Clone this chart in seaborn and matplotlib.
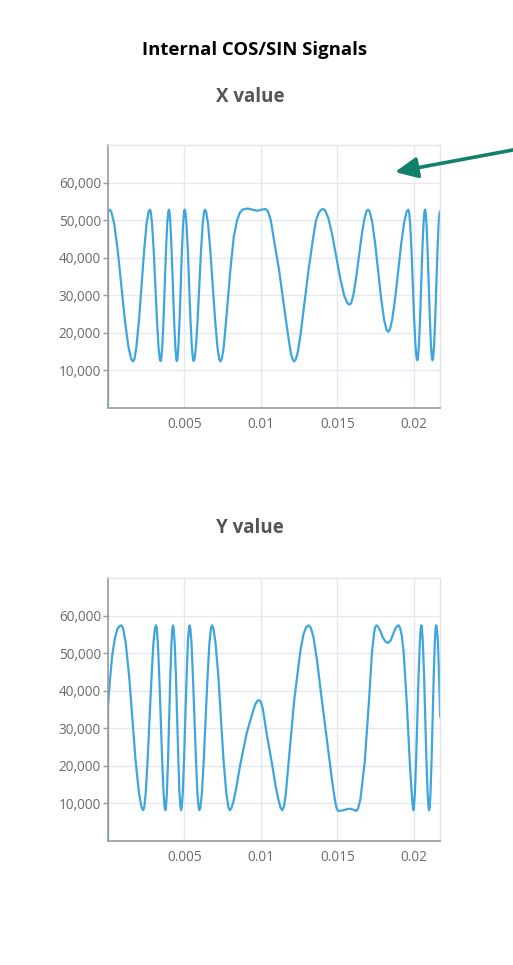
import numpy as np
import pandas as pd
import matplotlib
matplotlib.use("Agg")
import matplotlib.pyplot as plt
from matplotlib.ticker import FuncFormatter
import seaborn as sns

# --- Data (time in ms, value in thousands) ---
x_time_ms = [
    0.0, 0.0, 0.05, 0.10,
    0.22, 0.41, 0.64, 1.10, 1.33, 1.52, 1.64,
    1.73, 1.86, 2.03, 2.36, 2.52, 2.65, 2.74,
    2.80, 2.88, 2.99, 3.20, 3.30, 3.38, 3.44,
    3.48, 3.55, 3.63, 3.79, 3.87, 3.94, 3.98,
    4.02, 4.08, 4.16, 4.32, 4.40, 4.46, 4.50,
    4.54, 4.60, 4.68, 4.83, 4.91, 4.97, 5.01,
    5.06, 5.13, 5.22, 5.39, 5.48, 5.55, 5.60,
    5.66, 5.75, 5.86, 6.08, 6.19, 6.28, 6.34,
    6.42, 6.54, 6.69, 7.00, 7.15, 7.27, 7.35,
    7.45, 7.55, 7.63, 7.82, 8.00, 8.22, 8.44, 8.62, 8.80, 9.10, 9.45, 9.76,
    10.05, 10.28, 10.45, 10.64, 10.90, 11.18, 11.48, 11.78, 11.95, 12.07, 12.17,
    12.27, 12.40, 12.57, 12.84, 13.11, 13.42, 13.60, 13.78, 13.92, 14.05,
    14.19, 14.40, 14.66, 15.18, 15.44, 15.65, 15.79,
    15.89, 16.03, 16.21, 16.58, 16.76, 16.90, 17.00,
    17.10, 17.26, 17.46, 17.85, 18.05, 18.21, 18.31,
    18.42, 18.57, 18.77, 19.17, 19.37, 19.52, 19.63,
    19.68, 19.75, 19.84, 20.01, 20.10, 20.17, 20.22,
    20.26, 20.32, 20.395, 20.545, 20.62, 20.68, 20.72,
    20.76, 20.82, 20.89, 21.04, 21.11, 21.17, 21.21,
    21.25, 21.31, 21.385, 21.535, 21.61, 21.67, 21.71,
]
x_value_k = [
    0.0, 52.4, 52.7, 52.8,
    52.2, 49.0, 41.8, 23.5, 16.4, 13.0, 12.4,
    13.0, 16.4, 23.5, 41.8, 49.0, 52.2, 52.8,
    52.2, 49.0, 41.8, 23.5, 16.4, 13.1, 12.5,
    13.1, 16.4, 23.5, 41.8, 49.0, 52.2, 52.8,
    52.2, 49.0, 41.8, 23.5, 16.4, 13.1, 12.5,
    13.1, 16.4, 23.5, 41.8, 49.0, 52.2, 52.8,
    52.2, 49.0, 41.8, 23.5, 16.4, 13.1, 12.5,
    13.1, 16.4, 23.5, 41.8, 49.0, 52.2, 52.8,
    52.2, 49.0, 41.8, 23.5, 16.4, 13.0, 12.4,
    13.3, 15.8, 19.1, 28.0, 36.8, 45.6, 50.0, 52.0, 52.8, 53.1, 52.8, 52.5,
    52.8, 53.0, 52.4, 50.0, 43.5, 36.8, 27.8, 19.1, 14.6, 12.9, 12.4,
    12.9, 14.8, 19.1, 28.0, 36.8, 45.6, 50.0, 52.0, 52.7, 53.0,
    52.6, 50.6, 46.0, 34.5, 29.9, 27.9, 27.5,
    27.9, 29.9, 34.4, 45.9, 50.4, 52.4, 52.8,
    52.3, 49.7, 43.9, 29.2, 23.4, 20.8, 20.3,
    20.8, 23.4, 29.2, 43.9, 49.7, 52.3, 52.8,
    52.2, 49.0, 41.8, 23.6, 16.5, 13.3, 12.7,
    13.3, 16.5, 23.6, 41.8, 49.0, 52.2, 52.8,
    52.2, 49.0, 41.8, 23.6, 16.5, 13.3, 12.7,
    13.3, 16.5, 23.6, 41.8, 49.0, 51.9, 52.4,
]

y_time_ms = [
    0.0, 0.0, 0.12, 0.28, 0.45, 0.62, 0.76, 0.88,
    0.99, 1.16, 1.38, 1.80, 2.02, 2.19, 2.30,
    2.37, 2.47, 2.59, 2.85, 2.97, 3.07, 3.14,
    3.19, 3.26, 3.35, 3.54, 3.63, 3.70, 3.75,
    3.79, 3.85, 3.925, 4.075, 4.15, 4.21, 4.25,
    4.29, 4.36, 4.44, 4.60, 4.67, 4.74, 4.78,
    4.82, 4.89, 4.97, 5.14, 5.22, 5.29, 5.33,
    5.38, 5.46, 5.55, 5.75, 5.84, 5.92, 5.97,
    6.04, 6.14, 6.26, 6.51, 6.63, 6.73, 6.80,
    6.89, 7.03, 7.21, 7.55, 7.73, 7.87, 7.96,
    8.06, 8.20, 8.40, 8.62, 9.06, 9.43, 9.62, 9.76, 9.87,
    9.98, 10.12, 10.37, 10.75, 10.97, 11.14, 11.28, 11.40,
    11.50, 11.62, 11.78, 12.17, 12.57, 12.77, 12.95, 13.11,
    13.25, 13.42, 13.65, 13.93, 14.47, 14.68, 14.85, 14.95, 15.05,
    15.30, 15.55, 15.79, 16.00, 16.23,
    16.35, 16.50, 16.78, 17.06, 17.26, 17.40, 17.47, 17.54,
    17.65, 17.80, 17.95, 18.15, 18.31, 18.48, 18.65, 18.80, 18.92, 19.01,
    19.10, 19.20, 19.32, 19.52, 19.74, 19.84, 19.91, 19.96,
    20.00, 20.06, 20.14, 20.30, 20.38, 20.44, 20.48,
    20.52, 20.58, 20.66, 20.81, 20.89, 20.95, 20.99,
    21.03, 21.08, 21.15, 21.29, 21.36, 21.41, 21.45,
    21.50, 21.56, 21.62, 21.71,
]
y_value_k = [
    0.0, 36.0, 42.5, 49.5, 54.0, 56.5, 57.2, 57.4,
    56.6, 52.7, 44.0, 21.6, 12.9, 9.0, 8.2,
    9.0, 12.9, 21.6, 44.0, 52.7, 56.6, 57.4,
    56.6, 52.7, 44.0, 21.6, 12.9, 9.0, 8.2,
    9.0, 12.9, 21.6, 44.0, 52.7, 56.6, 57.4,
    56.6, 52.7, 44.0, 21.6, 12.9, 9.0, 8.2,
    9.0, 12.9, 21.6, 44.0, 52.7, 56.6, 57.4,
    56.6, 52.7, 44.0, 21.6, 12.9, 9.0, 8.2,
    9.0, 12.9, 21.6, 44.0, 52.7, 56.6, 57.4,
    56.6, 52.7, 44.0, 21.6, 12.9, 9.0, 8.2,
    8.7, 10.5, 14.5, 19.8, 28.6, 33.9, 36.3, 37.3, 37.5,
    37.1, 35.2, 28.6, 19.8, 14.3, 11.0, 8.8, 8.2,
    9.2, 12.5, 19.8, 37.4, 50.5, 54.9, 56.9, 57.4,
    56.8, 54.5, 48.5, 39.1, 21.6, 15.0, 10.5, 8.6, 8.0,
    8.1, 8.4, 8.6, 8.4, 8.0,
    8.7, 11.2, 21.0, 37.4, 50.5, 55.6, 56.9, 57.4,
    57.1, 55.9, 54.3, 53.0, 52.7, 53.4, 55.2, 56.7, 57.3, 57.4,
    56.6, 54.7, 50.5, 37.4, 19.8, 13.4, 9.6, 8.2,
    9.0, 12.9, 21.6, 44.0, 52.7, 56.6, 57.4,
    56.6, 52.7, 44.0, 21.6, 12.9, 9.0, 8.2,
    9.0, 12.9, 21.6, 44.0, 52.7, 56.6, 57.4,
    56.6, 53.5, 46.5, 33.0,
]

x_ticks = [0.005, 0.01, 0.015, 0.02]
x_tick_labels = ["0.005", "0.01", "0.015", "0.02"]
y_ticks = [10000, 20000, 30000, 40000, 50000, 60000]

df_x = pd.DataFrame({"t": np.array(x_time_ms) / 1000, "v": np.array(x_value_k) * 1000})
df_y = pd.DataFrame({"t": np.array(y_time_ms) / 1000, "v": np.array(y_value_k) * 1000})

sns.set_theme(style="white")
plt.rcParams["font.family"] = ["Open Sans", "DejaVu Sans"]

LINE = "#3fa6dd"
GRID = "#e4e8f0"

fig = plt.figure(figsize=(5.13, 9.65), dpi=100)
fig.patch.set_facecolor("white")
ax1 = fig.add_axes([0.2105, 0.5772, 0.6472, 0.2725])
ax2 = fig.add_axes([0.2105, 0.1285, 0.6472, 0.2725])


def style_axes(ax):
    ax.set_xlim(0, 0.0217)
    ax.set_ylim(0, 70000)
    ax.set_xticks(x_ticks)
    ax.set_xticklabels(x_tick_labels)
    ax.set_yticks(y_ticks)
    ax.yaxis.set_major_formatter(FuncFormatter(lambda v, p: f"{int(v):,}"))
    ax.grid(True, color=GRID, lw=1)
    ax.set_axisbelow(True)
    ax.set_xlabel("")
    ax.set_ylabel("")
    for side in ["top", "right"]:
        ax.spines[side].set_color("#e2e5ec")
        ax.spines[side].set_linewidth(1)
    for side in ["left", "bottom"]:
        ax.spines[side].set_color("#9a9a9a")
        ax.spines[side].set_linewidth(1.2)
    ax.tick_params(axis="y", length=3.5, width=1, color="#9a9a9a",
                   labelsize=9.8, labelcolor="#6b6b6b", pad=1.5, left=True)
    ax.tick_params(axis="x", length=0, labelsize=9.8, labelcolor="#6b6b6b", pad=6.5)


sns.lineplot(data=df_x, x="t", y="v", ax=ax1, color=LINE, lw=1.6,
             estimator=None, sort=False)
sns.lineplot(data=df_y, x="t", y="v", ax=ax2, color=LINE, lw=1.6,
             estimator=None, sort=False)
style_axes(ax1)
style_axes(ax2)

# --- Titles ---
fig.text(0.497, 1 - 50 / 965, "Internal COS/SIN Signals", ha="center", va="center",
         fontsize=13.3, fontweight="bold", color="black")
fig.text(0.487, 1 - 97 / 965, "X value", ha="center", va="center",
         fontsize=13.5, fontweight="bold", color="#555555")
fig.text(0.487, 1 - 528 / 965, "Y value", ha="center", va="center",
         fontsize=13.5, fontweight="bold", color="#555555")

# --- Arrow pointing into the X chart ---
ax1.annotate("", xy=(395 / 513, 1 - 172 / 965), xycoords="figure fraction",
             xytext=(1.01, 1 - 149 / 965), textcoords="figure fraction",
             arrowprops=dict(arrowstyle="-|>,head_length=0.9,head_width=0.42",
                             color="#13806c", lw=2.6, mutation_scale=15,
                             shrinkA=0, shrinkB=0),
             annotation_clip=False)

fig.savefig("out.png", dpi=100, facecolor="white")
